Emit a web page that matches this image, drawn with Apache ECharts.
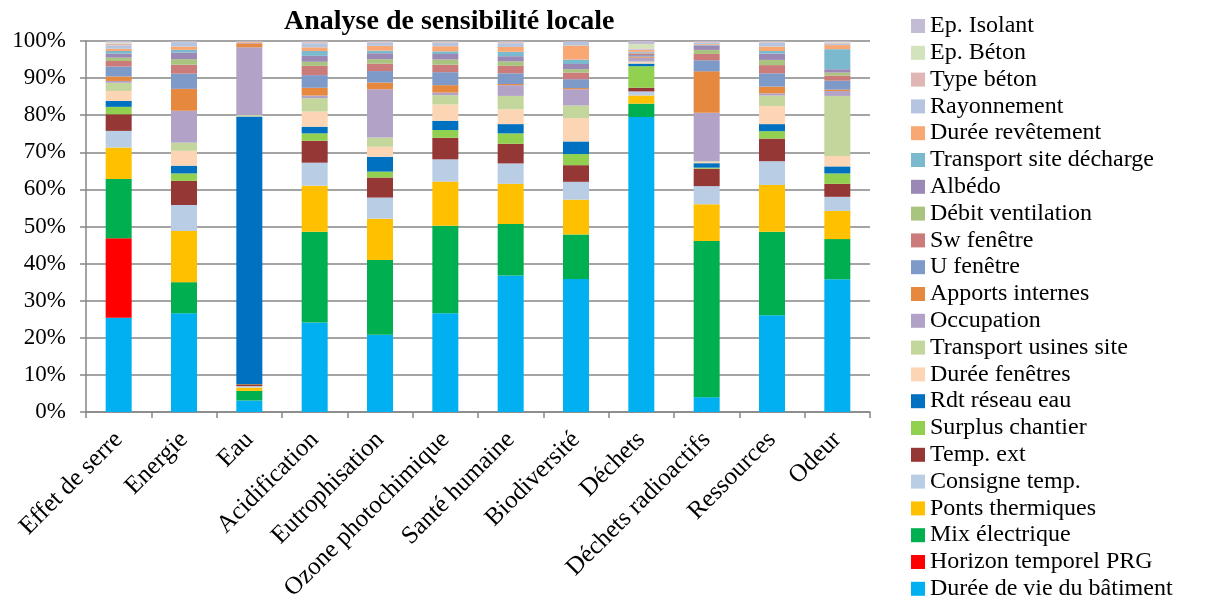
<!DOCTYPE html>
<html>
<head>
<meta charset="utf-8">
<script src="https://cdn.jsdelivr.net/npm/echarts@6/dist/echarts.min.js"></script>
<style>
  html, body { margin: 0; padding: 0; background: #fff; }
  #main { width: 1211px; height: 612px; }
</style>
</head>
<body>
<div id="main"></div>
<script>
var categories = ['Effet de serre', 'Energie', 'Eau', 'Acidification', 'Eutrophisation',
    'Ozone photochimique', 'Santé humaine', 'Biodiversité', 'Déchets',
    'Déchets radioactifs', 'Ressources', 'Odeur'];

// parts (%) par paramètre, de bas en haut de la pile
var dureeVie       = [25.5, 26.6, 3.1, 24.1, 20.8, 26.6, 36.8, 35.9, 79.6, 4.0, 26.1, 35.8];
var horizonPRG     = [21.5, 0, 0, 0, 0, 0, 0, 0, 0, 0, 0, 0];
var mixElec        = [16, 8.4, 2.6, 24.5, 20.2, 23.6, 13.9, 12, 3.6, 42.2, 22.5, 10.8];
var pontsTherm     = [8.5, 13.8, 0.9, 12.4, 11.1, 11.9, 10.8, 9.4, 2.2, 9.9, 12.6, 7.6];
var consigneTemp   = [4.5, 7, 0.4, 6.2, 5.7, 6, 5.5, 4.8, 1.1, 4.9, 6.4, 3.8];
var tempExt        = [4.5, 6.5, 0.5, 5.9, 5.4, 5.8, 5.3, 4.5, 1, 4.7, 6.1, 3.5];
var surplus        = [2, 2, 0.1, 2, 1.6, 2.1, 2.8, 3, 5.8, 0.3, 2, 2.8];
var rdtEau         = [1.6, 2.1, 72.3, 1.8, 4, 2.5, 2.5, 3.4, 0.7, 1.2, 1.9, 1.9];
var dureeFen       = [2.7, 4, 0.1, 4.1, 2.7, 4.4, 4, 6.3, 0.4, 0.3, 4.9, 2.8];
var transpUsines   = [2.2, 2.2, 0.3, 3.6, 2.5, 2.5, 3.6, 3.4, 0.2, 0.2, 2.8, 16.2];
var occupation     = [0.5, 8.6, 18.3, 0.7, 13, 0.7, 2.9, 4.4, 1, 13.1, 0.6, 1.3];
var apports        = [1.2, 5.9, 1, 2.1, 1.8, 2, 0.3, 0.3, 0.3, 11.2, 1.8, 0.4];
var uFen           = [2.7, 4.1, 0.1, 3.4, 3.1, 3.5, 2.9, 2.4, 0.4, 3, 3.6, 2.4];
var swFen          = [1.5, 2.4, 0.1, 2.5, 2, 2, 2, 1.8, 0.4, 1.7, 2.2, 1.4];
var debitVent      = [0.9, 1.5, 0, 1.1, 1.2, 1.4, 1.2, 0.9, 0.1, 1.1, 1.4, 0.8];
var albedo         = [1.1, 1.8, 0, 1.6, 1.6, 1.5, 1.4, 1.4, 0.2, 1.2, 1.7, 0.9];
var transpDecharge = [0.7, 0.7, 0, 1.3, 0.7, 0.7, 1.2, 1.2, 0.2, 0.2, 0.7, 5.4];
var dureeRev       = [0.6, 0.9, 0.2, 1, 1.3, 1.4, 1.3, 3.8, 0.5, 0.2, 1.2, 1.1];
var rayonnement    = [0.9, 1.2, 0.2, 1.1, 0.9, 1, 1, 1, 0.2, 0.4, 1.1, 0.4];
var typeBeton      = [0.5, 0.1, 0.1, 0.3, 0.2, 0.2, 0.3, 0.1, 0.2, 0.2, 0.2, 0.3];
var epBeton        = [0.3, 0.1, 0, 0.1, 0.1, 0.1, 0.1, 0, 1.2, 0, 0.1, 0.2];
var epIsolant      = [0.4, 0.1, 0, 0.2, 0.1, 0.1, 0.2, 0.1, 0.8, 0.2, 0.1, 0.2];

var yTicks = [0, 10, 20, 30, 40, 50, 60, 70, 80, 90, 100];

var layers = [
    ['Durée de vie du bâtiment', dureeVie, '#00B0F0'],
    ['Horizon temporel PRG', horizonPRG, '#FF0000'],
    ['Mix électrique', mixElec, '#00B050'],
    ['Ponts thermiques', pontsTherm, '#FFC000'],
    ['Consigne temp.', consigneTemp, '#B9CDE5'],
    ['Temp. ext', tempExt, '#953735'],
    ['Surplus chantier', surplus, '#92D050'],
    ['Rdt réseau eau', rdtEau, '#0070C0'],
    ['Durée fenêtres', dureeFen, '#FCD5B5'],
    ['Transport usines site', transpUsines, '#C3D69B'],
    ['Occupation', occupation, '#B3A2C7'],
    ['Apports internes', apports, '#E6883E'],
    ['U fenêtre', uFen, '#7D9AC9'],
    ['Sw fenêtre', swFen, '#CB7B79'],
    ['Débit ventilation', debitVent, '#A9C47F'],
    ['Albédo', albedo, '#9C88B4'],
    ['Transport site décharge', transpDecharge, '#7BB9CE'],
    ['Durée revêtement', dureeRev, '#F9A874'],
    ['Rayonnement', rayonnement, '#B5C5E0'],
    ['Type béton', typeBeton, '#E0B6B5'],
    ['Ep. Béton', epBeton, '#D3E3BC'],
    ['Ep. Isolant', epIsolant, '#C4BBD4']
];

// ramener chaque colonne à 100 %
var totals = categories.map(function (c, i) {
    return layers.reduce(function (s, l) { return s + l[1][i]; }, 0);
});

var font = '"Liberation Serif", "Times New Roman", serif';

var series = layers.map(function (l) {
    return {
        name: l[0],
        type: 'bar',
        stack: 'total',
        barWidth: 26,
        itemStyle: { color: l[2] },
        data: l[1].map(function (v, i) { return v / totals[i] * 100; })
    };
});

var myChart = echarts.init(document.getElementById('main'));
var option = {
    animation: false,
    color: layers.map(function (l) { return l[2]; }),
    title: {
        text: 'Analyse de sensibilité locale',
        left: 279,
        top: 3,
        textStyle: { fontFamily: font, fontSize: 28, fontWeight: 'bold', color: '#000' }
    },
    legend: {
        orient: 'vertical',
        left: 911,
        top: 14,
        height: 600,
        padding: 0,
        icon: 'rect',
        itemWidth: 14,
        itemHeight: 14,
        itemGap: 2.8,
        data: layers.map(function (l) { return l[0]; }).reverse(),
        textStyle: { fontFamily: font, fontSize: 24, color: '#000', padding: [0, 0, 0, 0] }
    },
    grid: { left: 86, right: 341, top: 41, bottom: 200 },
    xAxis: {
        type: 'category',
        data: categories,
        axisLine: { lineStyle: { color: '#868686', width: 1.5 } },
        axisTick: { show: true, length: 6, lineStyle: { color: '#868686', width: 1.5 } },
        axisLabel: { rotate: 45, interval: 0, margin: 24, fontFamily: font, fontSize: 25, color: '#000' }
    },
    yAxis: {
        type: 'value',
        min: yTicks[0],
        max: yTicks[yTicks.length - 1],
        interval: yTicks[1] - yTicks[0],
        axisLine: { show: true, lineStyle: { color: '#868686', width: 1.5 } },
        axisTick: { show: true, length: 6, lineStyle: { color: '#868686', width: 1.5 } },
        splitLine: { lineStyle: { color: '#868686', width: 1.5 } },
        axisLabel: { formatter: '{value}%', margin: 20, fontFamily: font, fontSize: 23, color: '#000' }
    },
    series: series
};

myChart.setOption(option);
</script>
</body>
</html>
